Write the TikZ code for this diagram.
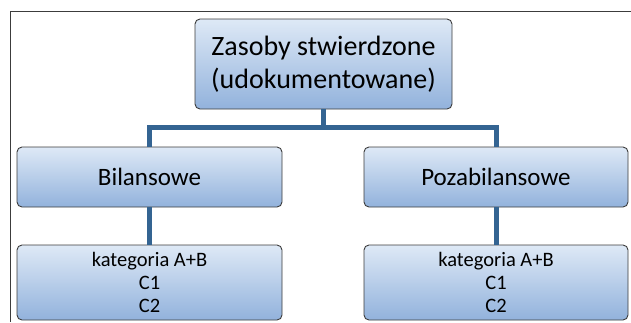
\documentclass[tikz,border=0pt]{standalone}
\usepackage{fontspec}
\setmainfont{Carlito}
\usetikzlibrary{positioning}

\definecolor{boxtop}{RGB}{222,233,246}
\definecolor{boxbot}{RGB}{146,178,220}
\definecolor{boxline}{RGB}{60,60,60}
\definecolor{linkblue}{RGB}{52,100,146}

\tikzset{
  orgbox/.style={rectangle, rounded corners=5pt, draw=boxline, line width=0.9pt,
    top color=boxtop, bottom color=boxbot, inner sep=0pt, align=center},
  link/.style={draw=linkblue, line width=5pt}
}

\begin{document}
\begin{tikzpicture}[x=1pt,y=-1pt]
        \useasboundingbox (0,0) rectangle (631,322);
        \draw[boxline, line width=0.8pt] (631,11) -- (10,11) -- (10,322);
        \node[orgbox, minimum width=257pt, minimum height=90pt, font=\fontsize{28}{33}\selectfont] at (323.5,64) (zas) {Zasoby stwierdzone\\(udokumentowane)};
        \node[orgbox, minimum width=265pt, minimum height=60pt, font=\fontsize{25}{28}\selectfont] at (149.5,177) (bil) {Bilansowe};
        \node[orgbox, minimum width=264pt, minimum height=60pt, font=\fontsize{25}{28}\selectfont] at (496,177) (poz) {Pozabilansowe};
        \node[orgbox, minimum width=265pt, minimum height=75pt, font=\fontsize{20.5}{23}\selectfont] at (149.5,282.5) (bilkat) {kategoria A+B\\C1\\C2};
        \node[orgbox, minimum width=264pt, minimum height=75pt, font=\fontsize{20.5}{23}\selectfont] at (496,282.5) (pozkat) {kategoria A+B\\C1\\C2};
        \draw[link] (zas.south) -- ++(0,18) -| (bil.north);
        \draw[link] (zas.south) -- ++(0,18) -| (poz.north);
        \draw[link] (bil.south) -- (bilkat.north);
        \draw[link] (poz.south) -- (pozkat.north);
\end{tikzpicture}
\end{document}
